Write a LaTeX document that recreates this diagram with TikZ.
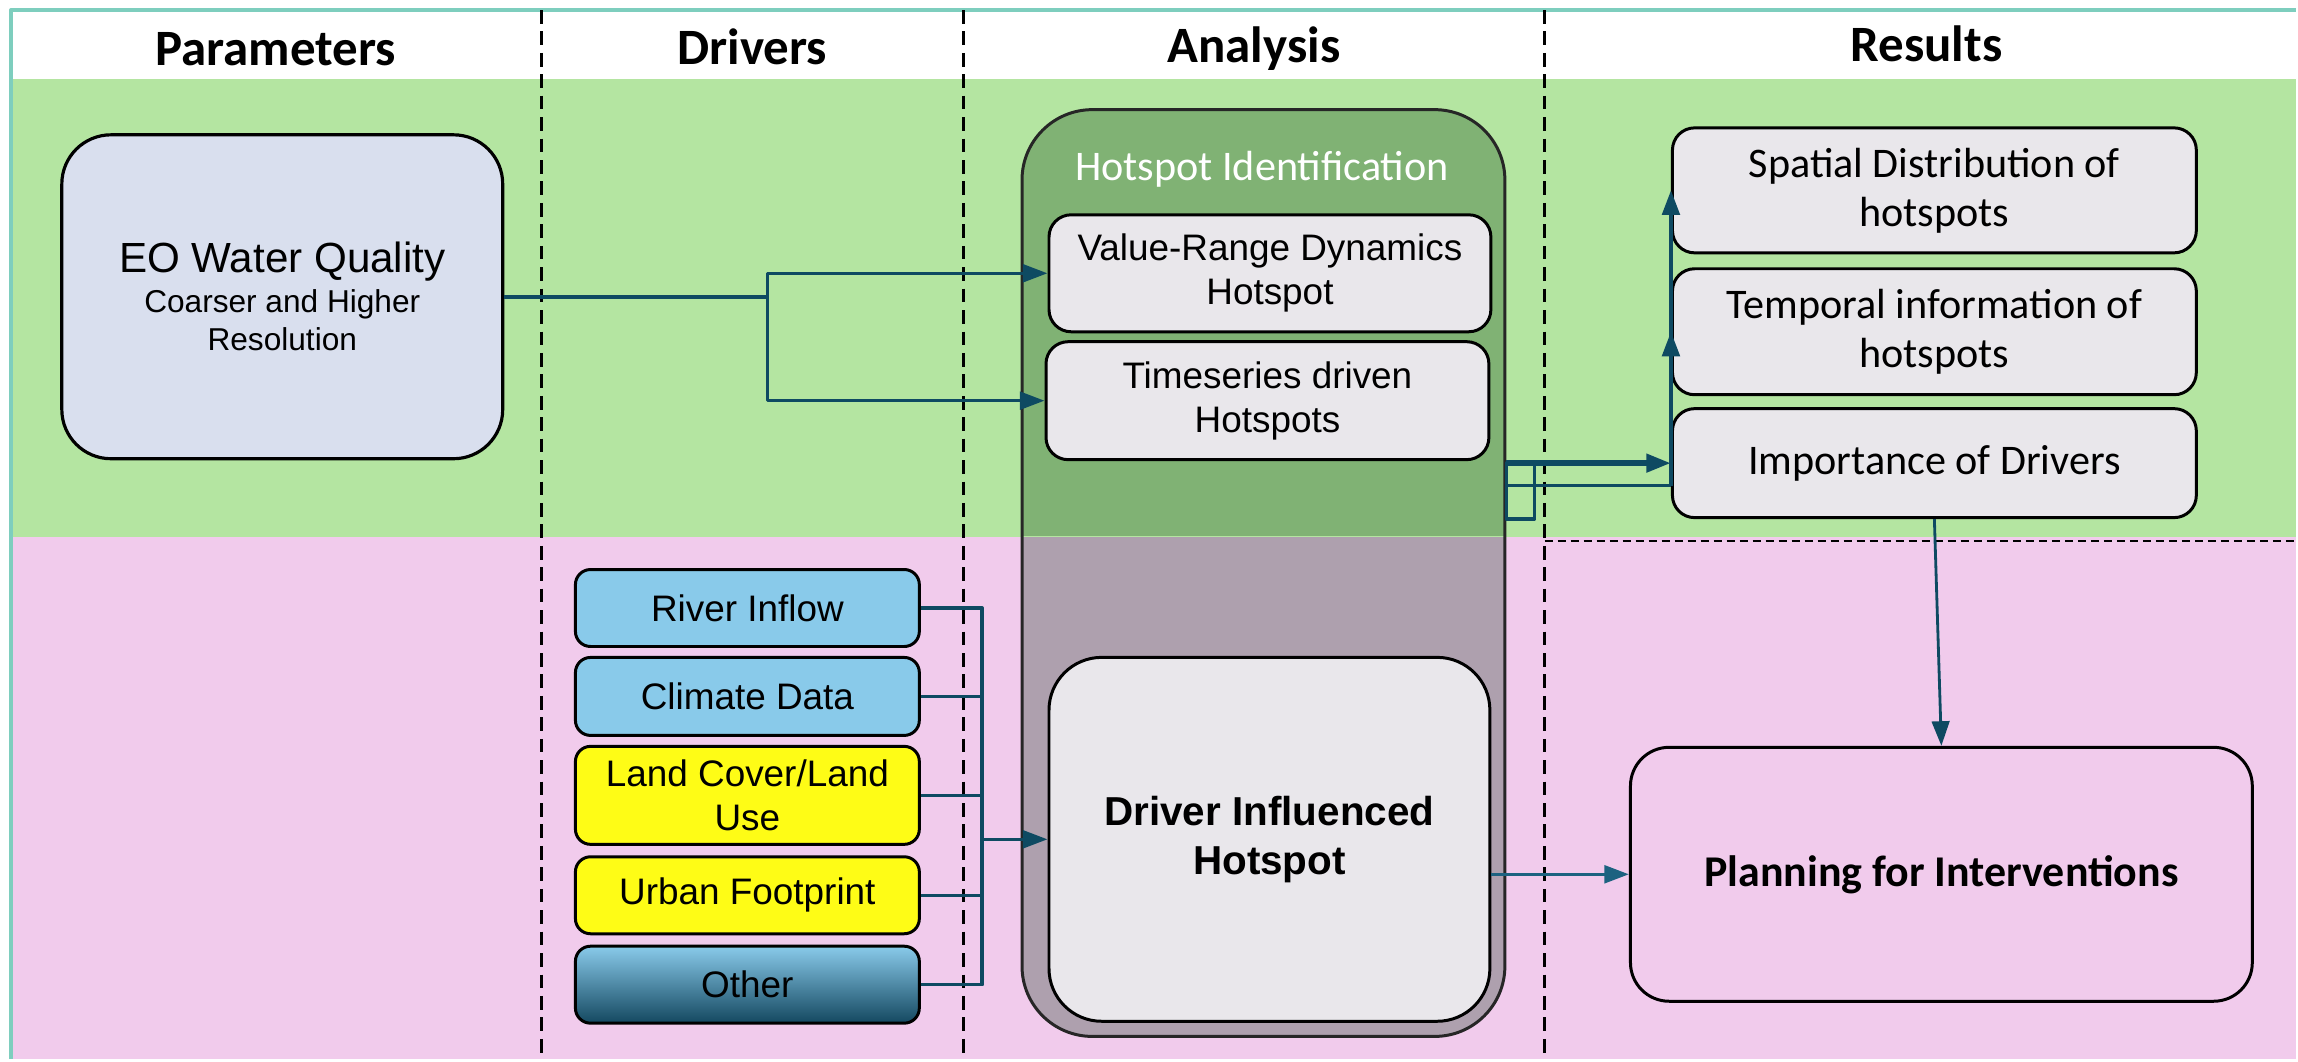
\documentclass[tikz,border=0pt]{standalone}
\usepackage{fontspec}
\setmainfont{Liberation Sans}
\newfontfamily\calfont{Carlito}
\usetikzlibrary{arrows.meta}
\definecolor{bandgreen}{RGB}{180,229,161}
\definecolor{bandpink}{RGB}{241,203,236}
\definecolor{frameteal}{RGB}{126,206,190}
\definecolor{hsgreen}{RGB}{128,178,116}
\definecolor{hsmauve}{RGB}{174,160,174}
\definecolor{boxgrey}{RGB}{233,231,235}
\definecolor{eoblue}{RGB}{217,223,238}
\definecolor{skyblue}{RGB}{137,202,234}
\definecolor{lemon}{RGB}{254,252,22}
\definecolor{deepteal}{RGB}{20,72,96}
\definecolor{linkblue}{RGB}{14,74,98}
\definecolor{linklight}{RGB}{28,98,128}
\begin{document}
\begin{tikzpicture}[x=0.01cm,y=-0.01cm,>={Triangle[length=7pt,width=5pt]},line join=round,
	box/.style={draw,line width=0.85pt,fill=boxgrey,align=center,inner sep=0pt},
	drv/.style={box,minimum width=3.44cm,rounded corners=4.3pt,font=\fontsize{10.5}{12.5}\selectfont},
	drvsky/.style={fill=skyblue},
	drvlemon/.style={fill=lemon},
	drvdeep/.style={top color=skyblue,bottom color=deepteal},
	res/.style={box,minimum width=5.24cm,rounded corners=6.3pt,font=\calfont\fontsize{12}{14}\selectfont},
	con/.style={draw=linkblue,line width=1pt}]
			\fill[white] (0,0) rectangle (2298,1060);
			\fill[bandgreen] (11,79) rectangle (2298,537);
			\fill[bandpink] (11,537) rectangle (2298,1060);
			\draw[frameteal,line width=1.1pt] (11,1060) -- (11,10) -- (2298,10);
			\useasboundingbox (0,0) rectangle (2298,1060);
			\foreach \x in {542,964,1546}
			\draw[line width=0.9pt,dash pattern=on 3.9pt off 2.2pt] (\x,10) -- (\x,1060);
			\draw[line width=0.6pt,dash pattern=on 2.3pt off 1.4pt] (1546,541) -- (2298,541);
			\foreach \x/\y/\t/\n in {276/49/Parameters/hpar,753/47/Drivers/hdrv,1255/49/Analysis/hana,1928/44/Results/hres}
			\node[font=\calfont\bfseries\fontsize{14.5}{17}\selectfont] (\n) at (\x,\y) {\t};
			\node[box,fill=eoblue,line width=0.9pt,minimum width=4.41cm,minimum height=3.24cm,rounded corners=14pt,font=\fontsize{9}{10.8}\selectfont] (eo) at (282.5,297) {{\fontsize{12}{14}\selectfont EO Water Quality}\\[0.6pt]Coarser and Higher\\Resolution};
			\node[draw=black!85,line width=0.85pt,rounded corners=20pt,minimum width=4.83cm,minimum height=9.27cm,
				path picture={\fill[hsgreen,sharp corners] (path picture bounding box.north west) rectangle ++(600,427);
					\fill[hsmauve,sharp corners] (path picture bounding box.south west) rectangle ++(600,-500);}] (hsid) at (1264.5,573.5) {};
			\node[font=\calfont\fontsize{12}{14}\selectfont,text=white] (hsl) at (1263,169) {Hotspot Identification};
			\node[box,minimum width=4.42cm,minimum height=1.17cm,rounded corners=6.3pt,font=\fontsize{10.5}{12.5}\selectfont] (vr) at (1271,273.5) {Value-Range Dynamics\\Hotspot};
			\node[box,minimum width=4.43cm,minimum height=1.18cm,rounded corners=6.3pt,font=\fontsize{10.5}{12.5}\selectfont] (ts) at (1268.5,401) {Timeseries driven\\Hotspots};
			\node[box,minimum width=4.41cm,minimum height=3.64cm,rounded corners=15pt,font=\bfseries\fontsize{11.5}{14}\selectfont] (dih) at (1270.5,840) {Driver Influenced\\Hotspot};
			\foreach \y/\h/\s/\t/\n in {608.5/0.77/drvsky/River Inflow/rin,697/0.78/drvsky/Climate Data/cli,796/0.98/drvlemon/{Land Cover/Land\\Use}/lcl,896/0.77/drvlemon/Urban Footprint/urb,985.5/0.77/drvdeep/Other/oth}
			\node[drv,\s,minimum height=\h cm] (\n) at (748,\y) {\t};
			\node[res,minimum height=1.25cm] (sd) at (1936,190.5) {Spatial Distribution of\\hotspots};
			\node[res,minimum height=1.26cm] (ti) at (1936,332) {Temporal information of\\hotspots};
			\node[res,minimum height=1.09cm] (id) at (1936,463.5) {Importance of Drivers};
			\node[draw,line width=0.85pt,rounded corners=11pt,minimum width=6.22cm,minimum height=2.54cm,font=\calfont\bfseries\fontsize{12.5}{15}\selectfont] (pi) at (1943,875) {Planning for Interventions};
			\coordinate (eoj) at (768,297);
			\draw[con] (eo.east) -- (eoj);
			\draw[con,->] (eoj) |- (vr.west);
			\draw[con,->] (eoj) |- (ts.west);
			\coordinate (bus) at (983,840);
			\foreach \n in {rin,cli,lcl,urb,oth}
			\draw[con] (\n.east) -| (bus);
			\draw[con,->] (bus) -- (dih.west);
			\coordinate (rj) at (1506,486);
			\draw[con] (hsid.east |- id.west) rectangle ++(28,56);
			\draw[con,->,line width=1.6pt] (hsid.east |- id.west) -- (id.west);
			\draw[con] (rj) -- (id.west |- rj);
			\draw[con,->] (id.west |- rj) -- (ti.west);
			\draw[con,->] (id.west |- rj) -- (sd.west);
			\draw[con,line width=0.8pt,->] (id.south) -- (pi.north);
			\draw[con,draw=linklight,->] (dih.east |- pi.west) -- (pi.west);
		\end{tikzpicture}
\end{document}
